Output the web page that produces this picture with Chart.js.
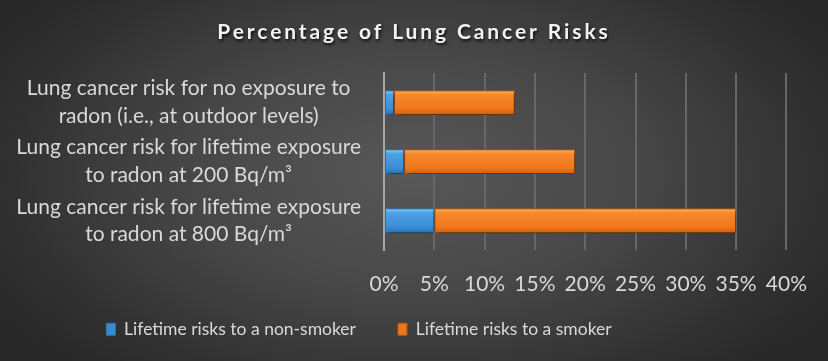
<!DOCTYPE html>
<html>
<head>
<meta charset="utf-8">
<script src="https://cdn.jsdelivr.net/npm/chart.js@4/dist/chart.umd.min.js"></script>
<style>
  html, body { margin: 0; padding: 0; }
  body {
    width: 828px; height: 361px; overflow: hidden;
    background: radial-gradient(ellipse 60% 75% at 50% 48%, #585858 0%, #474747 45%, #2f2f2f 85%, #272727 100%);
  }
  #wrap { width: 828px; height: 361px; position: relative; }
</style>
</head>
<body>
<div id="wrap"><canvas id="Courbes" width="828" height="361"></canvas></div>
<script>
const chartTitle = "Percentage of Lung Cancer Risks";
const categories = [
  ["Lung cancer risk for no exposure to", "radon (i.e., at outdoor levels)"],
  ["Lung cancer risk for lifetime exposure", "to radon at 200 Bq/m³"],
  ["Lung cancer risk for lifetime exposure", "to radon at 800 Bq/m³"],
];
const nonSmoker = [1, 2, 5];
const smoker = [12, 17, 30];
const seriesNames = ["Lifetime risks to a non-smoker", "Lifetime risks to a smoker"];
const xMax = 40;
const xStep = 5;

const FONT = "Lato, 'Open Sans', sans-serif";
const textColor = "#d9d9d9";
const legendShift = 39;
const legendLeftShift = 40;

function barGradient(ctx, top, bottom, stops) {
  const g = ctx.createLinearGradient(0, top, 0, bottom);
  g.addColorStop(0, stops[0]);
  g.addColorStop(0.18, stops[1]);
  g.addColorStop(0.75, stops[2]);
  g.addColorStop(1, stops[3]);
  return g;
}

const blueStops = ["#8ad6fa", "#4aa2e4", "#3b8ed6", "#2b6fae"];
const orangeStops = ["#ffb85c", "#f6892c", "#ef771a", "#cc600f"];

// gradient fill + shadow on bars
const barStyle = {
  id: "barStyle",
  beforeDatasetDraw(chart, args) {
    const ctx = chart.ctx;
    const stops = args.index === 0 ? blueStops : orangeStops;
    args.meta.data.forEach((bar) => {
      const h = bar.height;
      bar.options.backgroundColor = barGradient(ctx, bar.y - h / 2, bar.y + h / 2, stops);
    });
    ctx.save();
    ctx.shadowColor = "rgba(0,0,0,0.55)";
    ctx.shadowBlur = 5;
    ctx.shadowOffsetX = 2;
    ctx.shadowOffsetY = 3;
  },
  afterDatasetDraw(chart) {
    chart.ctx.restore();
  },
};

// legend sits higher and further left than the layout would put it
const legendMove = {
  id: "legendMove",
  afterLayout(chart) {
    chart.legend.top -= legendShift;
    chart.legend.bottom -= legendShift;
    chart.legend.left -= legendLeftShift;
    chart.legend.right -= legendLeftShift;
  },
};

// letter-spaced title with shadow
const titleDraw = {
  id: "titleDraw",
  afterDraw(chart) {
    const ctx = chart.ctx;
    ctx.save();
    ctx.font = "bold 21px " + FONT;
    ctx.letterSpacing = "2.9px";
    ctx.textAlign = "center";
    ctx.textBaseline = "middle";
    ctx.shadowColor = "rgba(0,0,0,0.8)";
    ctx.shadowBlur = 3;
    ctx.shadowOffsetX = 1;
    ctx.shadowOffsetY = 2;
    ctx.fillStyle = "#f2f2f2";
    ctx.fillText(chartTitle, 414, 32);
    ctx.restore();
  },
};

let ctx = document.getElementById("Courbes").getContext("2d");
let Courbes = new Chart(ctx, {
  type: "bar",
  data: {
    labels: categories,
    datasets: [
      {
        label: seriesNames[0],
        data: nonSmoker,
        backgroundColor: () => "#3a8ad2",
        borderColor: "#2d73b4",
        borderWidth: 1,
        borderSkipped: false,
      },
      {
        label: seriesNames[1],
        data: smoker,
        backgroundColor: () => "#ee7518",
        borderColor: "#b95510",
        borderWidth: 1,
        borderSkipped: false,
      },
    ],
  },
  options: {
    indexAxis: "y",
    responsive: false,
    animation: false,
    maintainAspectRatio: false,
    layout: {
      padding: { top: 73, right: 30, bottom: -26, left: 0 },
    },
    datasets: {
      bar: { categoryPercentage: 1, barPercentage: 0.42 },
    },
    plugins: {
      title: { display: false },
      tooltip: { enabled: false },
      legend: {
        position: "bottom",
        labels: {
          color: textColor,
          font: { family: FONT, size: 17.5 },
          boxWidth: 9,
          boxHeight: 12,
          padding: 42,
          generateLabels(chart) {
            return chart.data.datasets.map((ds, i) => ({
              text: ds.label,
              fillStyle: i === 0 ? "#3a8ad2" : "#ee7518",
              strokeStyle: i === 0 ? "#2d73b4" : "#b95510",
              lineWidth: 1,
              fontColor: textColor,
              datasetIndex: i,
            }));
          },
        },
      },
    },
    scales: {
      x: {
        stacked: true,
        min: 0,
        max: xMax,
        ticks: {
          stepSize: xStep,
          color: textColor,
          font: { family: FONT, size: 21 },
          padding: 21,
          callback: (v) => v + "%",
        },
        grid: { color: "#676767", lineWidth: 2, drawTicks: false },
        border: { display: false },
      },
      y: {
        stacked: true,
        afterFit: (scale) => { scale.width = 384; },
        ticks: {
          autoSkip: false,
          color: textColor,
          font: { family: FONT, size: 21, lineHeight: 1.33 },
          crossAlign: "center",
          padding: 15,
        },
        grid: { display: false },
        border: { display: true, color: "#a6a6a6", width: 2 },
      },
    },
  },
  plugins: [barStyle, legendMove, titleDraw],
});
</script>
</body>
</html>
